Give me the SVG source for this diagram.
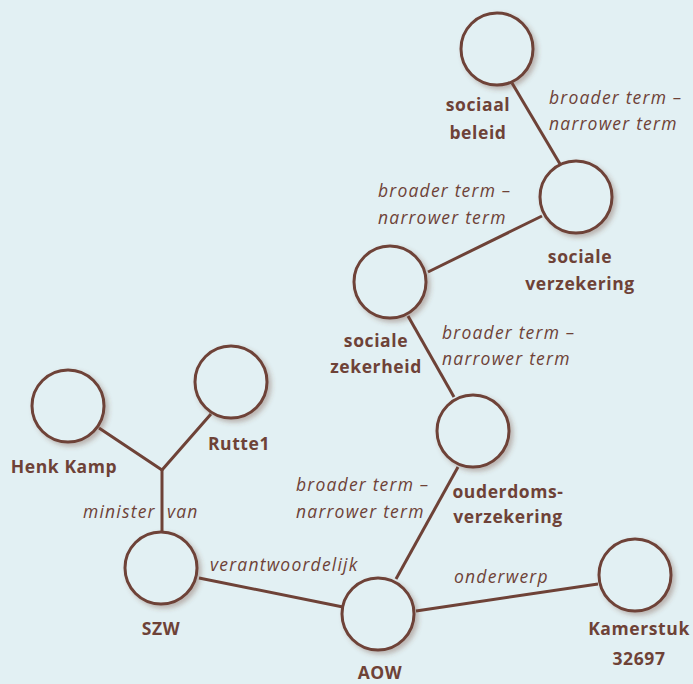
<svg xmlns="http://www.w3.org/2000/svg" width="693" height="684" viewBox="0 0 693 684">
<defs>
<filter id="sh" x="-30%" y="-30%" width="160%" height="160%">
<feDropShadow dx="3" dy="3" stdDeviation="2.5" flood-color="#6e4237" flood-opacity="0.35"/>
</filter>
<style>
.n{fill:#e2f0f3;stroke:#6e4237;stroke-width:3;filter:url(#sh)}
.e{stroke:#6e4237;stroke-width:3;fill:none}
.t{font-family:"Open Sans",Lato,sans-serif;font-weight:bold;font-size:17.5px;letter-spacing:0.6px;fill:#6e4237;text-anchor:middle}
.l{font-family:"Open Sans",Lato,sans-serif;font-style:italic;font-size:17.5px;letter-spacing:1.2px;fill:#6e4237}
</style>
</defs>
<rect width="693" height="684" fill="#e2f0f3"/>
<g id="edges">
<line class="e" x1="512" y1="83" x2="560" y2="164"/>
<line class="e" x1="542" y1="216" x2="428" y2="272"/>
<line class="e" x1="408" y1="316" x2="454" y2="397"/>
<line class="e" x1="458" y1="467" x2="396" y2="579"/>
<line class="e" x1="199" y1="578" x2="343" y2="607"/>
<line class="e" x1="416" y1="611" x2="598" y2="584"/>
<polyline class="e" points="99,428 162,470 211,414"/>
<line class="e" x1="162" y1="470" x2="162" y2="532"/>
<text class="l" x="549" y="104">broader term –</text>
<text class="l" x="549" y="130">narrower term</text>
<text class="l" x="378" y="197">broader term –</text>
<text class="l" x="378" y="224">narrower term</text>
<text class="l" x="442" y="339">broader term –</text>
<text class="l" x="442" y="365">narrower term</text>
<text class="l" x="296" y="491">broader term –</text>
<text class="l" x="296" y="518">narrower term</text>
<text class="l" x="83" y="518">minister</text>
<text class="l" x="167" y="518">van</text>
<text class="l" x="210" y="571">verantwoordelijk</text>
<text class="l" x="454" y="583">onderwerp</text>
</g>
<g id="sociaal-beleid"><circle class="n" cx="497" cy="49" r="36"/><text class="t" x="478" y="111">sociaal</text><text class="t" x="478" y="139">beleid</text></g>
<g id="sociale-verzekering"><circle class="n" cx="576" cy="197" r="36"/><text class="t" x="580" y="263">sociale</text><text class="t" x="580" y="290">verzekering</text></g>
<g id="sociale-zekerheid"><circle class="n" cx="390" cy="282" r="36"/><text class="t" x="376" y="347">sociale</text><text class="t" x="376" y="373">zekerheid</text></g>
<g id="ouderdomsverzekering"><circle class="n" cx="473" cy="431" r="36"/><text class="t" x="508" y="498">ouderdoms-</text><text class="t" x="508" y="523">verzekering</text></g>
<g id="henk-kamp"><circle class="n" cx="68" cy="406" r="36"/><text class="t" x="64" y="473">Henk Kamp</text></g>
<g id="rutte1"><circle class="n" cx="231" cy="382" r="36"/><text class="t" x="239" y="450">Rutte1</text></g>
<g id="szw"><circle class="n" cx="161" cy="568" r="36"/><text class="t" x="161" y="635">SZW</text></g>
<g id="aow"><circle class="n" cx="378" cy="614" r="36"/><text class="t" x="380" y="679">AOW</text></g>
<g id="kamerstuk"><circle class="n" cx="635" cy="575" r="36"/><text class="t" x="639" y="635">Kamerstuk</text><text class="t" x="639" y="665">32697</text></g>
</svg>
